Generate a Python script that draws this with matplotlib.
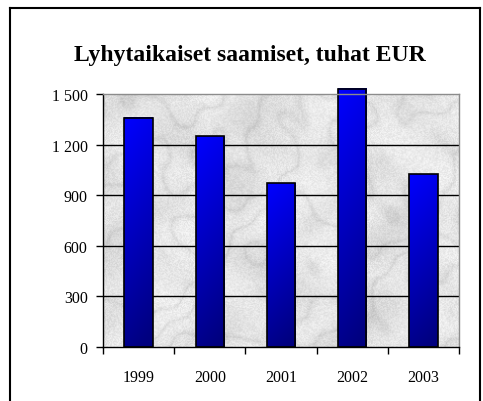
"""
Lyhytaikaiset saamiset, tuhat EUR — pylväskaavio marmoritaustalla
"""

import numpy as np
import matplotlib
matplotlib.use("Agg")
import matplotlib.pyplot as plt
from matplotlib.patches import Rectangle
from matplotlib.ticker import FuncFormatter, FixedLocator

# ── DATA ──────────────────────────────────────────────────────────────────
years = ["1999", "2000", "2001", "2002", "2003"]
values = [1360, 1250, 970, 1530, 1025]
yticks = [0, 300, 600, 900, 1200, 1500]
title = "Lyhytaikaiset saamiset, tuhat EUR"

plt.rcParams["font.family"] = ["Liberation Serif", "DejaVu Serif"]

fig = plt.figure(figsize=(4.83, 4.02), dpi=100)
ax = fig.add_axes([0.2133, 0.1343, 0.737, 0.6294])

# ── Marmoritausta (deterministinen kuvio) ────────────────────────────────
h, w = 260, 360
yy, xx = np.mgrid[0:h, 0:w].astype(float)
turb = (np.sin(xx * 0.031 + yy * 0.017) * 2.0 + np.sin(xx * 0.011 - yy * 0.043) * 1.6
        + np.sin(xx * 0.073 + yy * 0.059) * 0.9 + np.sin(xx * 0.13 - yy * 0.11) * 0.5)
cloud = (np.sin(xx * 0.045 + 1.3 * np.sin(yy * 0.05)) * np.cos(yy * 0.038 + 1.1 * np.sin(xx * 0.027)))
vein = np.abs(np.sin(xx * 0.02 + yy * 0.035 + turb))
grain = np.modf(np.abs(np.sin(xx * 12.9898 + yy * 78.233) * 43758.5453))[0]
tex = (0.90 - 0.07 * (1 - vein) ** 3 - 0.05 * np.clip(cloud, 0, 1)
       + 0.03 * np.clip(-cloud, 0, 1) + 0.09 * (grain - 0.5))
tex = np.clip(tex, 0.62, 1.0)
ax.imshow(tex, cmap="gray", vmin=0, vmax=1, extent=[-0.5, 4.5, 0, 1500],
          aspect="auto", zorder=0, interpolation="bilinear")

# ── Pylväät liukuvärillä ─────────────────────────────────────────────────
bw = 0.4
top_c = np.array([0.0, 0.0, 1.0])
bot_c = np.array([0.0, 0.0, 0.5])
for i, v in enumerate(values):
    t = np.linspace(0, 1, 64)[:, None]          # 0 = ylhäällä, 1 = alhaalla
    s = np.linspace(0, 1, 16)[None, :]           # vasemmalta oikealle
    mix = np.clip(t * 0.9 + s * 0.15, 0, 1)
    grad = top_c[None, None, :] * (1 - mix[..., None]) + bot_c[None, None, :] * mix[..., None]
    im = ax.imshow(grad, extent=[i - bw / 2, i + bw / 2, 0, v], aspect="auto",
                   zorder=3, interpolation="bilinear")
    im.set_clip_on(False)
    ax.add_patch(Rectangle((i - bw / 2, 0), bw, v, facecolor="none",
                           edgecolor="black", linewidth=1.2, zorder=4, clip_on=False))

ax.set_xlim(-0.5, 4.5)
ax.set_ylim(0, 1500)

# Ruudukko
for yv in yticks[1:-1]:
    ax.axhline(yv, color="black", linewidth=1.0, zorder=2)

# Akselit
ax.spines["top"].set_color("#8c8c8c")
ax.spines["right"].set_color("#8c8c8c")
ax.spines["left"].set_color("black")
ax.spines["bottom"].set_color("black")
for sp in ax.spines.values():
    sp.set_linewidth(1.0)
    sp.set_zorder(5)

ax.yaxis.set_major_locator(FixedLocator(yticks))
ax.yaxis.set_major_formatter(FuncFormatter(lambda v, p: f"{int(v):,}".replace(",", " ")))
ax.tick_params(axis="y", direction="out", length=5, width=1, labelsize=11.5, pad=6)

ax.set_xticks(np.arange(-0.5, 5, 1.0))
ax.set_xticklabels([])
ax.set_xticks(range(len(years)), minor=True)
ax.set_xticklabels(years, minor=True)
ax.tick_params(axis="x", which="major", direction="out", length=5, width=1)
ax.tick_params(axis="x", which="minor", length=0, labelsize=11.5, pad=16)

fig.text(0.518, 0.863, title, ha="center", va="center", fontsize=17, fontweight="bold")

# Kehys
fig.add_artist(plt.Line2D([10 / 483, 10 / 483], [0, 1 - 9 / 402], color="black", linewidth=1.5))
fig.add_artist(plt.Line2D([10 / 483, 480 / 483], [1 - 9 / 402, 1 - 9 / 402], color="black", linewidth=1.5))
fig.add_artist(plt.Line2D([480 / 483, 480 / 483], [0, 1 - 9 / 402], color="black", linewidth=1.5))

fig.savefig("out.png", dpi=100)
